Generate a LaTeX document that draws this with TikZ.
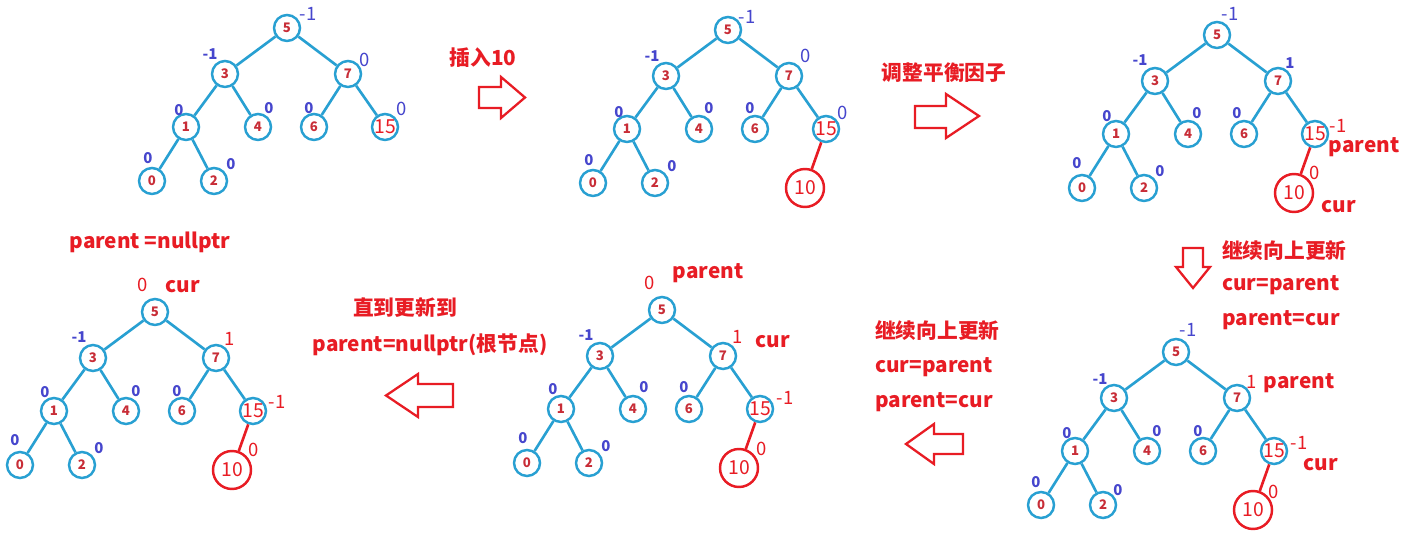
\documentclass[tikz,border=0pt]{standalone}
\usepackage{fontspec}
\newfontfamily\cjk{Noto Sans CJK SC}
\usetikzlibrary{positioning,calc}
\definecolor{treeblue}{RGB}{40,160,210}
\definecolor{keyred}{RGB}{200,45,55}
\definecolor{bfblue}{RGB}{70,70,205}
\definecolor{markred}{RGB}{232,28,36}

\begin{document}
\begin{tikzpicture}[x=0.02cm,y=-0.02cm,
  tnode/.style={circle,draw=treeblue,line width=1.4pt,fill=white,minimum size=0.52cm,inner sep=0pt,
                font=\cjk\bfseries\fontsize{7.5}{8}\selectfont,text=keyred},
  bignum/.style={font=\cjk\fontsize{11}{12}\selectfont,text=markred},
  newnode/.style={circle,draw=markred,line width=1.4pt,fill=white,minimum size=0.76cm,inner sep=0pt,bignum},
  tedge/.style={draw=treeblue,line width=1.5pt},
  newedge/.style={draw=markred,line width=1.5pt},
  bf/.style={font=\cjk\bfseries\fontsize{8.5}{9}\selectfont,text=bfblue},
  bfbig/.style={font=\cjk\fontsize{10.5}{11}\selectfont,text=bfblue},
  bfred/.style={font=\cjk\fontsize{10.5}{11}\selectfont,text=markred},
  note/.style={font=\cjk\bfseries\fontsize{11.8}{13}\selectfont,text=markred},
  blockarrow/.style={draw=markred,line width=1.3pt,fill=white,line join=miter}
]
  \fill[white] (0,0) rectangle (1416,543);
  \useasboundingbox (0,0) rectangle (1416,543);

  % the six trees
  \foreach \t/\rx/\ry in {a/287/28,b/728/30,c/1217/35,d/1176/352,e/662/310,f/155/312} {
    \begin{scope}[shift={(\rx,\ry)}]
      \foreach \n/\x/\y in {5/0/0,3/-62/46,7/61/46,1/-101/99,4/-29/99,6/27/99,0/-135/153,2/-73/153}
        \node[tnode] (\t\n) at (\x,\y) {\n};
      \node[tnode,bignum] (\t15) at (98,99) {15};
      \foreach \p/\c in {5/3,5/7,3/1,3/4,7/6,7/15,1/0,1/2}
        \draw[tedge] (\t\p) -- (\t\c);
    \end{scope}
  }

  % inserted node
  \foreach \t in {b,c,d,e,f} {
    \node[newnode] (\t10) at ($(\t15)+(-21,59)$) {10};
    \draw[newedge] (\t15) -- (\t10);
  }

  % balance factors
  \foreach \x/\y/\v [count=\i] in {308/14/-1,365/60/0,402/109/0,747/17/-1,806/56/0,843/113/0,
                                   1230/14/-1,1188/330/-1}
    \node[bfbig] (bfb\i) at (\x,\y) {\v};
  \foreach \x/\y/\v [count=\i] in {210/54/-1,179/110/0,269/108/0,309/108/0,148/158/0,231/164/0,
                                   652/56/-1,619/112/0,709/108/0,750/108/0,589/160/0,672/166/0,
                                   1140/60/-1,1290/63/1,1107/116/0,1197/113/0,1237/113/0,1077/163/0,1160/171/0,
                                   1100/379/-1,1067/433/0,1157/431/0,1198/431/0,1036/482/0,1118/490/0,
                                   586/335/-1,553/389/0,644/387/0,684/387/0,523/438/0,606/446/0,
                                   79/337/-1,45/392/0,136/391/0,177/391/0,15/440/0,99/448/0}
    \node[bf] (bfs\i) at (\x,\y) {\v};
  \foreach \x/\y/\v [count=\i] in {1338/126/-1,1315/173/0,
                                   1252/382/1,1299/443/-1,1274/492/0,
                                   650/283/0,738/337/1,785/398/-1,762/449/0,
                                   143/285/0,230/339/1,277/402/-1,254/450/0}
    \node[bfred] (bfr\i) at (\x,\y) {\v};

  % parent / cur tags
  \node[note] (par1) at (1364,147) {parent};
  \node[note] (cur1) at (1339,207) {cur};
  \node[note] (par2) at (1299,383) {parent};
  \node[note] (cur2) at (1321,465) {cur};
  \node[note] (par3) at (708,273) {parent};
  \node[note] (cur3) at (773,342) {cur};
  \node[note] (cur4) at (183,287) {cur};
  \node[note] (par4) at (150,242) {parent =nullptr};

  % step texts
  \node[note] (ins) at (483,58) {插入10};
  \node[note] (adj) at (944,73) {调整平衡因子};
  \node[note,anchor=west] (upa) at (1216,251) {继续向上更新};
  \node[note,anchor=west] (upb) at (1216,285) {cur=parent};
  \node[note,anchor=west] (upc) at (1216,320) {parent=cur};
  \node[note,anchor=west] (upd) at (869,331) {继续向上更新};
  \node[note,anchor=west] (upe) at (869,367) {cur=parent};
  \node[note,anchor=west] (upf) at (869,402) {parent=cur};
  \node[note] (till) at (405,308) {直到更新到};
  \node[note] (root) at (430,345) {parent=nullptr(根节点)};

  % hollow arrows
  \draw[blockarrow] (479,87) -- (501,87) -- (501,77) -- (525,97.5) -- (501,118) -- (501,108) -- (479,108) -- cycle;
  \draw[blockarrow] (915,106) -- (946,106) -- (946,94) -- (979,116) -- (946,138) -- (946,128) -- (915,128) -- cycle;
  \draw[blockarrow] (1183,248) -- (1203,248) -- (1203,267) -- (1210,267) -- (1193,288) -- (1176,267) -- (1183,267) -- cycle;
  \draw[blockarrow] (963,434) -- (934,434) -- (934,424) -- (906,444) -- (934,464) -- (934,454) -- (963,454) -- cycle;
  \draw[blockarrow] (453,384) -- (418,384) -- (418,374) -- (386,395.5) -- (418,417) -- (418,407) -- (453,407) -- cycle;
\end{tikzpicture}
\end{document}
